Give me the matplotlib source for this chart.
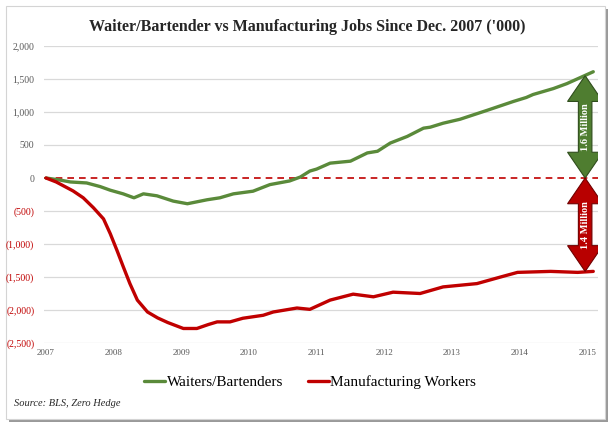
import matplotlib
matplotlib.use("Agg")
import matplotlib.pyplot as plt
from matplotlib.patches import Polygon, Rectangle
from matplotlib.ticker import FuncFormatter

# ---------- data (thousands of jobs, change since Dec 2007) ----------
waiters_x = [2007.0, 2007.2, 2007.36, 2007.6, 2007.8, 2007.95, 2008.14, 2008.3, 2008.44,
             2008.64, 2008.88, 2009.09, 2009.38, 2009.57, 2009.77, 2010.06, 2010.31, 2010.6,
             2010.76, 2010.9, 2011.0, 2011.2, 2011.5, 2011.75, 2011.9, 2012.09, 2012.34,
             2012.58, 2012.68, 2012.87, 2013.12, 2013.52, 2013.91, 2014.1, 2014.2, 2014.5,
             2014.7, 2015.09]
waiters_v = [0, -30, -60, -75, -130, -185, -240, -300, -240, -270, -350, -390, -330, -300,
             -240, -200, -100, -45, 15, 105, 135, 225, 255, 380, 405, 530, 630, 755, 770, 830,
             890, 1025, 1160, 1220, 1265, 1355, 1430, 1610]

manuf_x = [2007.0, 2007.15, 2007.4, 2007.55, 2007.7, 2007.85, 2007.95, 2008.05, 2008.14,
           2008.24, 2008.35, 2008.5, 2008.65, 2008.8, 2009.03, 2009.23, 2009.4, 2009.53,
           2009.72, 2009.91, 2010.21, 2010.36, 2010.71, 2010.9, 2011.2, 2011.54, 2011.84,
           2012.13, 2012.53, 2012.87, 2013.37, 2013.72, 2013.97, 2014.46, 2014.86, 2015.09]
manuf_v = [0, -60, -196, -300, -450, -620, -845, -1100, -1340, -1600, -1850, -2030, -2120,
           -2190, -2280, -2280, -2220, -2180, -2180, -2125, -2080, -2030, -1970, -1990, -1850,
           -1760, -1800, -1730, -1750, -1650, -1600, -1500, -1430, -1415, -1430, -1415]

year_ticks = list(range(2007, 2016))
y_ticks = [2000, 1500, 1000, 500, 0, -500, -1000, -1500, -2000, -2500]

GREEN = "#5a8a3a"
RED = "#c00000"
SERIF = ["Liberation Serif", "DejaVu Serif"]

plt.rcParams['font.family'] = SERIF

fig = plt.figure(figsize=(6.14, 4.28), dpi=100)
fig.patch.set_facecolor("white")

# card with drop shadow
W, H = 614, 428
fig.patches.append(Rectangle((9 / W, 6 / H), 599 / W, 413 / H, transform=fig.transFigure,
                             facecolor="#9a9a9a", edgecolor="none", zorder=-3))
fig.patches.append(Rectangle((6 / W, 9 / H), 599 / W, 413 / H, transform=fig.transFigure,
                             facecolor="white", edgecolor="#d4d4d4", lw=0.8, zorder=-2))

ax = fig.add_axes([44 / W, (H - 343) / H, (598 - 44) / W, (343 - 46) / H])
ax.set_facecolor("none")
ax.set_xlim(2006.97, 2015.16)
ax.set_ylim(-2500, 2000)

for v in y_ticks:
    if v != 0:
        ax.axhline(v, color="#d9d9d9", lw=0.9, zorder=1)
ax.axhline(0, color=RED, lw=1.2, ls=(0, (4, 3)), zorder=2)

ax.plot(waiters_x, waiters_v, color=GREEN, lw=2.4, solid_capstyle="round", zorder=3,
        label="Waiters/Bartenders")
ax.plot(manuf_x, manuf_v, color=RED, lw=2.4, solid_capstyle="round", zorder=3,
        label="Manufacturing Workers")

for s in ax.spines.values():
    s.set_visible(False)

ax.set_yticks(y_ticks)
ax.yaxis.set_major_formatter(FuncFormatter(
    lambda v, p: f"{v:,.0f}" if v >= 0 else f"({-v:,.0f})"))
ax.tick_params(axis="y", length=0, pad=7, labelsize=7)
for lab, v in zip(ax.get_yticklabels(), y_ticks):
    lab.set_color(RED if v < 0 else "#595959")

ax.set_xticks(year_ticks)
ax.set_xticklabels([str(y) for y in year_ticks])
ax.tick_params(axis="x", length=0, pad=4, labelsize=6.5, labelcolor="#595959")


def double_arrow(ax, x, y0, y1, face, edge, label):
    hw, hh, hl = 0.1, 0.26, 390
    pts = [(x, y1), (x + hh, y1 - hl), (x + hw, y1 - hl), (x + hw, y0 + hl),
           (x + hh, y0 + hl), (x, y0), (x - hh, y0 + hl), (x - hw, y0 + hl),
           (x - hw, y1 - hl), (x - hh, y1 - hl)]
    ax.add_patch(Polygon(pts, closed=True, facecolor=face, edgecolor=edge, lw=0.8, zorder=5))
    ax.text(x, (y0 + y1) / 2, label, rotation=90, ha="center", va="center", color="white",
            fontsize=7.5, fontweight="bold", zorder=6)


double_arrow(ax, 2014.97, 0, waiters_v[-1] - 60, "#4f7d30", "#2f4d1c", "1.6 Million")
double_arrow(ax, 2014.97, manuf_v[-1], 0, "#b80000", "#700000", "1.4 Million")

fig.text(0.5, 1 - 27 / H, "Waiter/Bartender vs Manufacturing Jobs Since Dec. 2007 ('000)",
         ha="center", va="center", fontsize=11.5, fontweight="bold", color="#262626")

fig.legend(loc="center", bbox_to_anchor=(0.505, 1 - 382 / H), ncol=2, frameon=False,
           fontsize=11, handlelength=1.4, handletextpad=0.1, columnspacing=1.6)

fig.text(14 / W, 1 - 404 / H, "Source: BLS, Zero Hedge", ha="left", va="center",
         fontsize=7.5, style="italic", color="#262626")

fig.savefig("out.png", dpi=100)
